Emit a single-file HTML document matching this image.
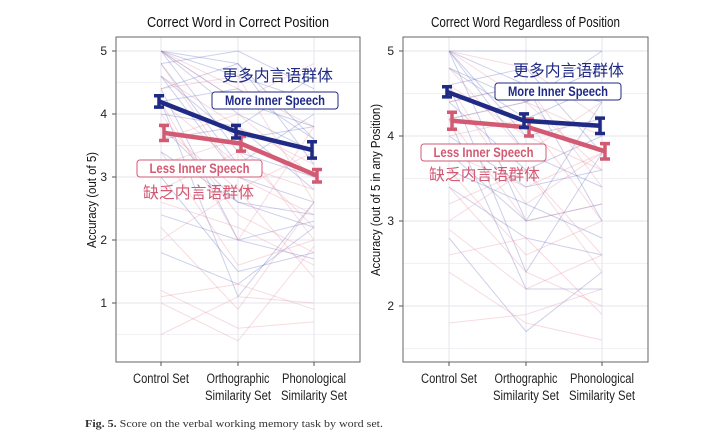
<!DOCTYPE html>
<html><head><meta charset="utf-8">
<style>
body{margin:0;background:#fff;}
svg{display:block;font-family:"Liberation Sans",sans-serif;}
.cn{font-family:"Liberation Sans","Noto Sans CJK SC",sans-serif;}
</style></head>
<body>
<svg id="chart" width="718" height="439" viewBox="0 0 718 439" xmlns="http://www.w3.org/2000/svg">
<text x="85" y="427" font-family="Liberation Serif,serif" font-size="11" fill="#333" textLength="298" lengthAdjust="spacingAndGlyphs"><tspan font-weight="bold">Fig. 5.</tspan>  Score on the verbal working memory task by word set.</text>
</svg>
<script>
const categories=["Control Set","Orthographic|Similarity Set","Phonological|Similarity Set"];
// Panel A
const aMoreMean=[4.2,3.72,3.43];
const aMoreErr=[0.09,0.1,0.13];
const aLessMean=[3.7,3.53,3.02];
const aLessErr=[0.12,0.12,0.1];
const aTicks=[1,2,3,4,5];
const aBlueLines=[[5,4.6,4.2],[5,4.2,3.8],[4.8,5,4.4],[4.6,3.6,3.8],[4.4,4.8,3.2],[5,3.4,3.0],[4.2,4.4,3.6],[3.8,2.6,2.2],[4.6,3.0,2.6],[4,3.8,4.6],[1.8,1.3,2.2],[3.4,2.6,2.4],[5,4.0,3.4],[4.4,2.0,2.3],[3.0,1.5,1.8],[4.8,3.2,4.0],[2.4,2.0,1.7],[4.2,1.1,2.6],[3.6,3.8,2.8],[5,4.8,3.6]];
const aPinkLines=[[5,4.4,3.8],[4.6,3.8,3.2],[4.4,4.6,2.6],[3.8,2.8,3.4],[3.2,3.6,2.0],[4.2,3.2,2.8],[1.2,0.6,0.7],[1.1,1.3,0.9],[0.5,1.1,1.0],[2.6,2.2,1.6],[4.8,3.0,2.4],[3.6,4.0,3.0],[2.2,0.9,2.6],[4,2.4,1.8],[2.8,3.4,2.2],[1.0,0.4,1.9],[3.4,1.6,2.0],[5,4.2,4.8],[4.2,2.0,3.8],[2.0,2.8,1.4]];
// Panel B
const bMoreMean=[4.52,4.18,4.12];
const bMoreErr=[0.06,0.08,0.09];
const bLessMean=[4.18,4.1,3.82];
const bLessErr=[0.1,0.1,0.09];
const bTicks=[2,3,4,5];
const bBlueLines=[[5,5,5],[5,4.6,4.4],[4.8,4.2,4.6],[4.6,4.8,3.8],[4.4,3.6,4.0],[5,3.8,3.4],[4.2,4.4,4.8],[3.8,3.0,3.2],[2.8,1.7,2.4],[4,3.4,3.6],[4.6,2.4,3.8],[3.4,2.8,2.6],[5,4.0,4.2],[4.4,4.6,3.0],[3.6,3.2,2.8],[4.8,4.4,5],[4.2,2.2,2.2],[5,3.0,4.4]];
const bPinkLines=[[5,4.4,4.0],[4.6,4.0,3.6],[4.4,4.6,3.4],[3.8,3.4,3.8],[3.2,3.6,2.6],[2.4,1.8,1.6],[1.8,1.9,2.2],[4.2,3.0,3.2],[4.8,3.8,4.4],[3.6,2.6,3.0],[2.9,2.2,2.6],[4.0,4.2,3.0],[5,4.8,4.2],[3.4,2.4,2.0],[4.6,3.2,3.8],[3.0,3.6,2.4],[4.2,4.4,3.6],[2.6,2.8,1.9]];

const NS="http://www.w3.org/2000/svg";
const svg=document.getElementById('chart');
function mk(tag,attrs,parent){const e=document.createElementNS(NS,tag);for(const k in attrs)e.setAttribute(k,attrs[k]);(parent||svg).appendChild(e);return e;}
const BLUE="#1f2a85",PINK="#d35a73";
const xLabelW={"Control Set":56,"Orthographic":63,"Phonological":64,"Similarity Set":66};

function panel(cfg){
  const g=mk('g',{});
  
  
  const x=i=>cfg.xs[i];
  const y=v=>cfg.y5+(5-v)*cfg.unit;
  for(let v=cfg.minor0;v<=5.01;v+=0.5){
    const l=mk('line',{x1:cfg.left,x2:cfg.right,y1:y(v),y2:y(v),stroke:Number.isInteger(v)?'#e6e6ee':'#f1f1f5','stroke-width':1},g);
    
    
  }
  categories.forEach((c,i)=>{
    const l=mk('line',{x1:x(i),x2:x(i),y1:cfg.top,y2:cfg.bottom,stroke:'#e6e6ee'},g);
    
    
  });
  const drawInd=(arr,col,nm)=>arr.forEach(d=>{
    const p=mk('polyline',{points:d.map((v,i)=>x(i)+','+y(v)).join(' '),fill:'none',stroke:col,'stroke-opacity':0.3,'stroke-width':1},g);
    
    
  });
  drawInd(cfg.blueL,'#5a64b8','participant-line-more');
  drawInd(cfg.pinkL,'#e0899b','participant-line-less');
  const fr=mk('rect',{x:cfg.left,y:cfg.top,width:cfg.right-cfg.left,height:cfg.bottom-cfg.top,fill:'none',stroke:'#666','stroke-width':1},g);
  
  
  const series=(mean,err,col,off,nm)=>{
    const p=mk('polyline',{points:mean.map((v,i)=>(x(i)+off)+','+y(v)).join(' '),fill:'none',stroke:col,'stroke-width':4.5,'stroke-linejoin':'round'},g);
    
    
    mean.forEach((v,i)=>{
      const xx=x(i)+off,y1=y(v+err[i]),y2=y(v-err[i]);
      const e=mk('path',{d:`M${xx},${y1}V${y2}M${xx-5},${y1}H${xx+5}M${xx-5},${y2}H${xx+5}`,stroke:col,'stroke-width':3.5,fill:'none'},g);
      
      
    });
  };
  series(cfg.lessM,cfg.lessE,PINK,3,'less-inner-speech');
  series(cfg.moreM,cfg.moreE,BLUE,-2,'more-inner-speech');
  cfg.ticks.forEach(v=>{
    const t=mk('line',{x1:cfg.left-4,x2:cfg.left,y1:y(v),y2:y(v),stroke:'#555'},g);
    
    
    const tx=mk('text',{x:cfg.left-9,y:y(v)+4,'text-anchor':'end','font-size':12,fill:'#222'},g);
    tx.textContent=v;
    
    
  });
  categories.forEach((c,i)=>{
    const t=mk('line',{x1:x(i),x2:x(i),y1:cfg.bottom,y2:cfg.bottom+4,stroke:'#555'},g);
    
    
    c.split('|').forEach((s,j)=>{
      const tx=mk('text',{x:x(i),y:cfg.bottom+21+j*17,'text-anchor':'middle','font-size':13.5,fill:'#222',textLength:xLabelW[s],lengthAdjust:'spacingAndGlyphs'},g);
      tx.textContent=s;
      
      
    });
  });
  const ti=mk('text',{x:(cfg.left+cfg.right)/2,y:27,'text-anchor':'middle','font-size':15,fill:'#111',textLength:cfg.titleW,lengthAdjust:'spacingAndGlyphs'},g);
  ti.textContent=cfg.title;
  
  
  const yt=mk('text',{transform:`translate(${cfg.ylx},${cfg.ylc}) rotate(-90)`,'text-anchor':'middle','font-size':13,fill:'#111',textLength:cfg.ytW,lengthAdjust:'spacingAndGlyphs'},g);
  yt.textContent=cfg.ytitle;
  
  
  const lab=(bx,by,bw,txt,col,cn,cx,cy,nm)=>{
    const r=mk('rect',{x:bx,y:by,width:bw,height:17,rx:3,fill:'#fff',stroke:col,'stroke-width':1},g);
    
    
    const t=mk('text',{x:bx+bw/2,y:by+13,'text-anchor':'middle','font-size':14,'font-weight':'bold',fill:col,textLength:100,lengthAdjust:'spacingAndGlyphs'},g);
    t.textContent=txt;
    
    
    const c=mk('text',{x:cx,y:cy,'font-size':16,fill:col,'class':'cn',textLength:111,lengthAdjust:'spacingAndGlyphs'},g);
    c.textContent=cn;
    
    
  };
  lab(cfg.moreBox[0],cfg.moreBox[1],126,'More Inner Speech',BLUE,'更多内言语群体',cfg.moreCn[0],cfg.moreCn[1],'more-inner-speech');
  lab(cfg.lessBox[0],cfg.lessBox[1],125,'Less Inner Speech',PINK,'缺乏内言语群体',cfg.lessCn[0],cfg.lessCn[1],'less-inner-speech');
}
panel({name:'panel-correct-position',left:116,right:360,top:37,bottom:362,xs:[161,238,314],y5:51,unit:63,minor0:0.5,ticks:aTicks,
 blueL:aBlueLines,pinkL:aPinkLines,moreM:aMoreMean,moreE:aMoreErr,lessM:aLessMean,lessE:aLessErr,
 title:'Correct Word in Correct Position',titleW:182,ytitle:'Accuracy (out of 5)',ytW:96,ylx:96,ylc:200,
 moreBox:[212,92],moreCn:[222,81],lessBox:[137,160],lessCn:[143,198]});
panel({name:'panel-regardless-position',left:403,right:648,top:37,bottom:362,xs:[449,526,602],y5:51,unit:85,minor0:1.5,ticks:bTicks,
 blueL:bBlueLines,pinkL:bPinkLines,moreM:bMoreMean,moreE:bMoreErr,lessM:bLessMean,lessE:bLessErr,
 title:'Correct Word Regardless of Position',titleW:189,ytitle:'Accuracy (out of 5 in any Position)',ytW:172,ylx:380,ylc:190,
 moreBox:[495,83],moreCn:[513,76],lessBox:[421,144],lessCn:[429,180]});
</script>
</body></html>
